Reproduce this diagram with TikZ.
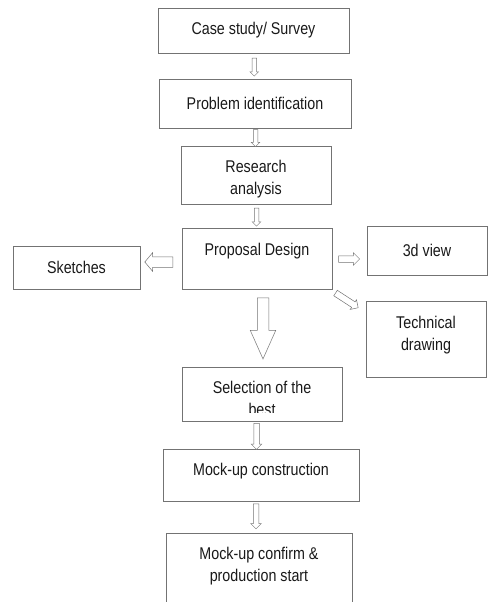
\documentclass[tikz,border=0pt]{standalone}
\usepackage{fontspec}
\setmainfont[FakeStretch=0.84]{Liberation Sans}
\usetikzlibrary{calc}
\usetikzlibrary{shapes.arrows}

\begin{document}
\begin{tikzpicture}[x=1pt,y=-1pt,
  flowbox/.style={draw=black!55, line width=0.5pt, text=black!90, align=center,
    inner sep=0pt, font=\fontsize{17pt}{22pt}\selectfont},
  flowarrow/.style={single arrow, draw=black!55, fill=white, line width=0.5pt,
    inner xsep=0pt, single arrow head indent=0pt},
]

  \clip (0,0) rectangle (490,602);

  % main column of steps
  \node[flowbox, minimum width=191pt, minimum height=45pt] (case) at (253.5,30.5) {Case study/ Survey};
  \node[flowbox, minimum width=192pt, minimum height=49pt] (problem) at (255,103.5) {Problem identification};
  \node[flowbox, minimum width=150pt, minimum height=58pt, text height=42pt] (research) at (256,175) {Research\\analysis};
  \node[flowbox, minimum width=150pt, minimum height=61pt, text depth=19pt] (proposal) at (257,258.5) {Proposal Design};

  % side branches of the proposal
  \node[flowbox, minimum width=127pt, minimum height=43pt] (sketches) at (76.5,267.5) {Sketches};
  \node[flowbox, minimum width=120pt, minimum height=49pt] (view) at (427,250.5) {3d view};
  \node[flowbox, minimum width=120pt, minimum height=76pt, text depth=11pt] (technical) at (426,339) {Technical\\drawing};

  % selection box, its text is cut off at the bottom
  \node[flowbox, minimum width=160pt, minimum height=54pt] (selection) at (262,394) {};
  \begin{scope}
    \clip (selection.north west) rectangle ($(selection.south east)+(0,-9)$);
    \node[flowbox, draw=none] (selectiontext) at ($(selection.center)+(0,4)$) {Selection of the\\best};
  \end{scope}

  \node[flowbox, minimum width=196pt, minimum height=52pt, text depth=12pt] (mockup) at (261,475) {Mock-up construction};
  \node[flowbox, minimum width=186pt, minimum height=73pt, text depth=11pt] (confirm) at (259,569.5) {Mock-up confirm \&\\production start};

  % hollow arrows between the steps
  \node[flowarrow, rotate=-90, minimum height=18pt, inner ysep=2pt, single arrow head extend=2pt]
    (a1) at ($(case.south)!.5!(problem.north)$) {};
  \node[flowarrow, rotate=-90, minimum height=17pt, inner ysep=2pt, single arrow head extend=2pt]
    (a2) at ($(problem.south)!.5!(research.north)$) {};
  \node[flowarrow, rotate=-90, minimum height=18pt, inner ysep=2pt, single arrow head extend=2pt]
    (a3) at ($(research.south)!.5!(proposal.north)$) {};
  \node[flowarrow, rotate=180, minimum height=28pt, inner ysep=5pt, single arrow head extend=4pt,
    single arrow tip angle=100]
    (a4) at ($(sketches.east)!.5!(proposal.west)+(0,-1)$) {};
  \node[flowarrow, minimum height=21pt, inner ysep=3pt, single arrow head extend=3pt]
    (a5) at ($(proposal.east)!.5!(view.west)+(-2,4.5)$) {};
  \node[flowarrow, rotate=-33, minimum height=27pt, inner ysep=3pt, single arrow head extend=2.5pt]
    (a6) at ($(proposal.south east)!.5!(technical.north west)+(-3.5,4.5)$) {};
  \node[flowarrow, rotate=-90, minimum height=61pt, inner ysep=5.5pt, single arrow head extend=7pt,
    single arrow tip angle=48]
    (a7) at ($(proposal.south)!.5!(selection.north)+(3.5,-6)$) {};
  \node[flowarrow, rotate=-90, minimum height=26pt, inner ysep=2.5pt, single arrow head extend=2.5pt]
    (a8) at ($(selection.south)!.5!(mockup.north)+(-5,0)$) {};
  \node[flowarrow, rotate=-90, minimum height=25pt, inner ysep=2.5pt, single arrow head extend=2.5pt]
    (a9) at ($(mockup.south)!.5!(confirm.north)+(-4,-2)$) {};

\end{tikzpicture}
\end{document}
